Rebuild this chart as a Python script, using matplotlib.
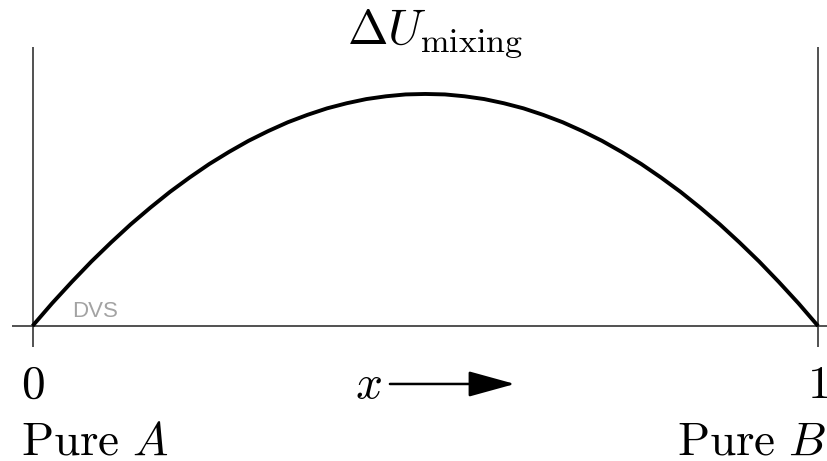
import matplotlib
matplotlib.use('Agg')
import matplotlib.pyplot as plt

plt.rcParams['mathtext.fontset'] = 'cm'

# Mixing energy across composition (peak normalised to 1)
mole_fraction = [0.000, 0.025, 0.050, 0.075, 0.100, 0.125, 0.150, 0.175, 0.200, 0.225,
                 0.250, 0.275, 0.300, 0.325, 0.350, 0.375, 0.400, 0.425, 0.450, 0.475,
                 0.500, 0.525, 0.550, 0.575, 0.600, 0.625, 0.650, 0.675, 0.700, 0.725,
                 0.750, 0.775, 0.800, 0.825, 0.850, 0.875, 0.900, 0.925, 0.950, 0.975,
                 1.000]
delta_u = [0.000, 0.098, 0.190, 0.278, 0.360, 0.438, 0.510, 0.578, 0.640, 0.698,
           0.750, 0.798, 0.840, 0.878, 0.910, 0.938, 0.960, 0.978, 0.990, 0.998,
           1.000, 0.998, 0.990, 0.978, 0.960, 0.938, 0.910, 0.878, 0.840, 0.798,
           0.750, 0.698, 0.640, 0.578, 0.510, 0.438, 0.360, 0.278, 0.190, 0.098,
           0.000]

end_labels = ['$0$', '$1$']
pure_labels = [r'$\mathrm{Pure}\ A$', r'$\mathrm{Pure}\ B$']

fig = plt.figure(figsize=(8.28, 4.61), dpi=100)
ax = fig.add_axes([0, 0, 1, 1])
ax.axis('off')
ax.set_xlim(-0.0414, 1.0127)
ax.set_ylim(-0.582, 1.405)

# baseline and the two composition limits
ax.plot([-0.026, 1.0127], [0, 0], color='#222222', lw=1.1, solid_capstyle='butt')
for xe in (0, 1):
    ax.plot([xe, xe], [-0.09, 1.203], color='#222222', lw=1.1, solid_capstyle='butt')

ax.plot(mole_fraction, delta_u, color='black', lw=2.8, solid_capstyle='butt',
        solid_joinstyle='round')

ax.text(0.512, 1.22, r'$\Delta U_{\mathrm{mixing}}$', fontsize=35,
        ha='center', va='baseline')

for xe, lab in zip((0, 1), end_labels):
    ax.text(xe, -0.31, lab, fontsize=34, ha='center', va='baseline')

ax.text(-0.0153, -0.556, pure_labels[0], fontsize=34, ha='left', va='baseline')
ax.text(1.0102, -0.556, pure_labels[1], fontsize=34, ha='right', va='baseline')

ax.text(0.4106, -0.31, '$x$', fontsize=34, ha='left', va='baseline')
ax.annotate('', xy=(0.614, -0.25), xytext=(0.455, -0.25),
            arrowprops=dict(arrowstyle='-|>,head_length=2.9,head_width=0.8',
                            mutation_scale=10, lw=1.8, color='black',
                            shrinkA=0, shrinkB=0))

ax.text(0.0503, 0.0388, 'DVS', fontsize=16, color='#a3a3a3',
        family='Liberation Sans', ha='left', va='baseline')

fig.savefig('out.png', dpi=100)
